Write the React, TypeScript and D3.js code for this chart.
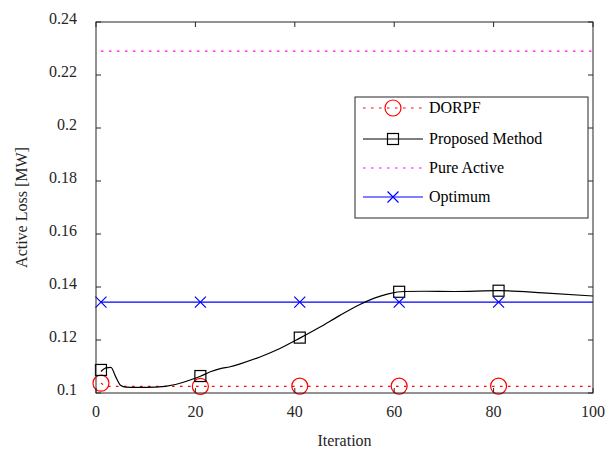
import React from "react";
import * as d3 from "d3";

const xTicks = [0, 20, 40, 60, 80, 100];
const yTicks = [0.1, 0.12, 0.14, 0.16, 0.18, 0.2, 0.22, 0.24];

const proposedIter = [1, 2, 3, 4, 5, 6, 8, 12, 16, 20, 21, 23, 25, 27, 29, 33, 37, 41, 45, 49, 53, 56, 59, 62, 66, 72, 81, 90, 100];
const proposedLoss = [0.1081, 0.1095, 0.1097, 0.1060, 0.1028, 0.1022, 0.1021, 0.1022, 0.1032, 0.1056, 0.1063, 0.1080, 0.1092, 0.1099, 0.1110, 0.1136, 0.1168, 0.1207, 0.1248, 0.1292, 0.1333, 0.1358, 0.1375, 0.1383, 0.1384, 0.1383, 0.1386, 0.1378, 0.1366];

const dorpfIter = [1, 2, 100];
const dorpfLoss = [0.1037, 0.1025, 0.1025];

const pureActiveIter = [1, 100];
const pureActiveLoss = [0.229, 0.229];

const optimumIter = [1, 100];
const optimumLoss = [0.1343, 0.1343];

const markerIter = [1, 21, 41, 61, 81];
const dorpfMarkers = [0.1037, 0.1025, 0.1026, 0.1026, 0.1026];
const proposedMarkers = [0.1087, 0.1064, 0.1209, 0.1382, 0.1386];
const optimumMarkers = [0.1343, 0.1343, 0.1343, 0.1343, 0.1343];

const legendLabels = ["DORPF", "Proposed Method", "Pure Active", "Optimum"];

const W = 605, H = 449;
const L = 96, R = 593, T = 22, B = 393;
const FONT = "\"Liberation Serif\", \"Times New Roman\", Times, serif";
const AX = "#262626";

export default function App() {
  const x = d3.scaleLinear().domain([0, 100]).range([L, R]);
  const y = d3.scaleLinear().domain([0.1, 0.24]).range([B, T]);
  const line = d3.line<[number, number]>().x(d => x(d[0])).y(d => y(d[1]));
  const smooth = d3.line<[number, number]>().x(d => x(d[0])).y(d => y(d[1])).curve(d3.curveMonotoneX);
  const zip = (a: number[], b: number[]) => a.map((v, i) => [v, b[i]] as [number, number]);

  const dot = "2.5,5.5";
  const ts: React.CSSProperties = { fontFamily: FONT };
  const circle = (cx: number, cy: number, k: string) => (
    <circle key={k} cx={cx} cy={cy} r={8} fill="none" stroke="#ff0000" strokeWidth={1.2} />
  );
  const square = (cx: number, cy: number, k: string) => (
    <rect key={k} x={cx - 5.5} y={cy - 5.5} width={11} height={11} fill="none" stroke="#000" strokeWidth={1.2} />
  );
  const cross = (cx: number, cy: number, k: string) => (
    <path key={k} d={`M${cx - 5.5},${cy - 5.5}L${cx + 5.5},${cy + 5.5}M${cx - 5.5},${cy + 5.5}L${cx + 5.5},${cy - 5.5}`} stroke="#0000ff" strokeWidth={1.2} fill="none" />
  );

  const legX = 355, legY = 97, legW = 233, legH = 121;
  const rowY = [108, 139, 168, 197];
  const lx1 = 363, lx2 = 423, lm = 393;

  return (
    <svg width={W} height={H} style={{ position: "absolute", left: 0, top: 0, background: "#fff" }}>
      <rect x={0} y={0} width={W} height={H} fill="#fff" />
      {/* data lines */}
      <path d={line(zip(pureActiveIter, pureActiveLoss)) || ""} stroke="#ff00ff" strokeWidth={1.2} strokeDasharray={dot} fill="none" />
      <path d={line(zip(optimumIter, optimumLoss)) || ""} stroke="#0000ff" strokeWidth={1.2} fill="none" />
      <path d={line(zip(dorpfIter, dorpfLoss)) || ""} stroke="#ff0000" strokeWidth={1.2} strokeDasharray={dot} fill="none" />
      <path d={smooth(zip(proposedIter, proposedLoss)) || ""} stroke="#000" strokeWidth={1.2} fill="none" />
      {markerIter.map((it, i) => circle(x(it), y(dorpfMarkers[i]), "c" + i))}
      {markerIter.map((it, i) => square(x(it), y(proposedMarkers[i]), "s" + i))}
      {markerIter.map((it, i) => cross(x(it), y(optimumMarkers[i]), "x" + i))}

      {/* axes box */}
      <rect x={L} y={T} width={R - L} height={B - T} fill="none" stroke={AX} strokeWidth={1} />
      {xTicks.map(t => (
        <g key={"xt" + t}>
          <line x1={x(t)} x2={x(t)} y1={B} y2={B - 5} stroke={AX} />
          <line x1={x(t)} x2={x(t)} y1={T} y2={T + 5} stroke={AX} />
          <text x={x(t)} y={411} fontSize={16} textAnchor="middle" dominantBaseline="central" fill={AX} style={ts}>{t}</text>
        </g>
      ))}
      {yTicks.map(t => (
        <g key={"yt" + t}>
          <line x1={L} x2={L + 5} y1={y(t)} y2={y(t)} stroke={AX} />
          <line x1={R} x2={R - 5} y1={y(t)} y2={y(t)} stroke={AX} />
          <text x={77} y={y(t) - 4} fontSize={16} textAnchor="end" dominantBaseline="central" fill={AX} style={ts}>{String(+t.toFixed(2))}</text>
        </g>
      ))}
      <text x={(L + R) / 2} y={440} fontSize={16} textAnchor="middle" dominantBaseline="central" fill={AX} style={ts}>Iteration</text>
      <text transform={`translate(21,${(T + B) / 2}) rotate(-90)`} fontSize={16} textAnchor="middle" dominantBaseline="central" fill={AX} style={ts}>Active Loss [MW]</text>

      {/* legend */}
      <rect x={legX} y={legY} width={legW} height={legH} fill="#fff" stroke={AX} strokeWidth={1} />
      <line x1={lx1} x2={lx2} y1={rowY[0]} y2={rowY[0]} stroke="#ff0000" strokeWidth={1.2} strokeDasharray={dot} />
      {circle(lm, rowY[0], "lc")}
      <line x1={lx1} x2={lx2} y1={rowY[1]} y2={rowY[1]} stroke="#000" strokeWidth={1.2} />
      {square(lm, rowY[1], "ls")}
      <line x1={lx1} x2={lx2} y1={rowY[2]} y2={rowY[2]} stroke="#ff00ff" strokeWidth={1.2} strokeDasharray={dot} />
      <line x1={lx1} x2={lx2} y1={rowY[3]} y2={rowY[3]} stroke="#0000ff" strokeWidth={1.2} />
      {cross(lm, rowY[3], "lx")}
      {legendLabels.map((lab, i) => (
        <text key={lab} x={429} y={rowY[i] - 1} fontSize={16} dominantBaseline="central" fill="#000" style={ts}>{lab}</text>
      ))}
    </svg>
  );
}
